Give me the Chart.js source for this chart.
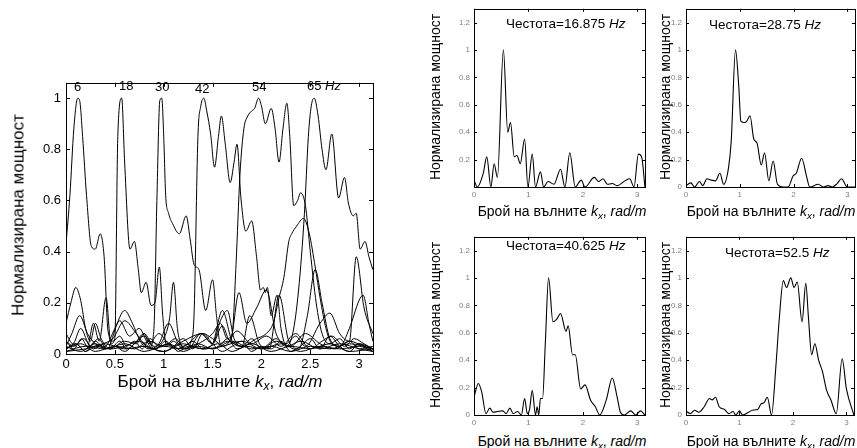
<!DOCTYPE html>
<html>
<head>
<meta charset="utf-8">
<script src="https://cdn.jsdelivr.net/npm/chart.js@4.4.0/dist/chart.umd.min.js"></script>
<style>
  body { margin: 0; width: 857px; height: 448px; overflow: hidden; position: relative; background: #fff;
         font-family: "Liberation Sans", Arial, sans-serif; color: #000; }
  canvas { position: absolute; }
  .lbl { position: absolute; white-space: nowrap; line-height: 1; }
  .rot { transform: translate(-50%, -50%) rotate(-90deg); }
  .ctr { transform: translate(-50%, -50%); }
  .big { font-size: 17px; }
  .small { font-size: 14px; }
  sub { font-size: 70%; vertical-align: -0.3em; line-height: 0; }
</style>
</head>
<body>
<canvas id="bigChart" width="354" height="305" style="left:26px; top:70px"></canvas>
<canvas id="f16" width="214" height="205" style="left:436px; top:0px"></canvas>
<canvas id="f28" width="212" height="205" style="left:648px; top:0px"></canvas>
<canvas id="f40" width="214" height="205" style="left:436px; top:228px"></canvas>
<canvas id="f52" width="212" height="205" style="left:648px; top:228px"></canvas>

<!-- big panel texts -->
<div class="lbl rot big" style="left:18px; top:215px">Нормализирана мощност</div>
<div class="lbl ctr big" style="left:220px; top:381px">Брой на вълните <i>k<sub>x</sub></i>, <i>rad/m</i></div>
<div class="lbl" style="left:74px; top:80px; font-size:13px">6</div>
<div class="lbl" style="left:119px; top:79px; font-size:13px">18</div>
<div class="lbl" style="left:155px; top:80px; font-size:13px">30</div>
<div class="lbl" style="left:195px; top:82px; font-size:13px">42</div>
<div class="lbl" style="left:252px; top:80px; font-size:13px">54</div>
<div class="lbl" style="left:307px; top:79px; font-size:13px">65 <i>Hz</i></div>

<!-- small panel texts -->
<div class="lbl rot small" style="left:435px; top:97px">Нормализирана мощност</div>
<div class="lbl rot small" style="left:665px; top:97px">Нормализирана мощност</div>
<div class="lbl rot small" style="left:435px; top:325px">Нормализирана мощност</div>
<div class="lbl rot small" style="left:665px; top:325px">Нормализирана мощност</div>
<div class="lbl ctr small" style="left:562px; top:211px">Брой на вълните <i>k<sub>x</sub></i>, <i>rad/m</i></div>
<div class="lbl ctr small" style="left:771px; top:211px">Брой на вълните <i>k<sub>x</sub></i>, <i>rad/m</i></div>
<div class="lbl ctr small" style="left:562px; top:441px">Брой на вълните <i>k<sub>x</sub></i>, <i>rad/m</i></div>
<div class="lbl ctr small" style="left:771px; top:441px">Брой на вълните <i>k<sub>x</sub></i>, <i>rad/m</i></div>
<div class="lbl" style="left:506px; top:17px; font-size:13.5px">Честота=16.875 <i>Hz</i></div>
<div class="lbl" style="left:709px; top:18px; font-size:13.5px">Честота=28.75 <i>Hz</i></div>
<div class="lbl" style="left:506px; top:239px; font-size:13.5px">Честота=40.625 <i>Hz</i></div>
<div class="lbl" style="left:725px; top:246px; font-size:13.5px">Честота=52.5 <i>Hz</i></div>

<script>
// Ticks
const xTicks = [0, 0.5, 1, 1.5, 2, 2.5, 3];
const yTicks = [0, 0.2, 0.4, 0.6, 0.8, 1];
const xTicksSmall = [0, 1, 2, 3];
const yTicksSmall = [0, 0.2, 0.4, 0.6, 0.8, 1, 1.2];

// Big panel: wavenumber (rad/m) and normalized power for each curve
const k6 = [0, 0.04, 0.08, 0.12, 0.14, 0.17, 0.21, 0.26, 0.30, 0.35, 0.39, 0.43, 0.48, 0.55, 0.62, 0.70, 0.78, 0.86, 0.95, 1.05, 1.15, 1.25, 1.40, 1.55, 1.70, 1.85, 2.00, 2.20, 2.40, 2.60, 2.80, 3.00, 3.14];
const p6 = [0.43, 0.62, 0.88, 1.00, 0.99, 0.85, 0.62, 0.42, 0.41, 0.47, 0.38, 0.09, 0.05, 0.07, 0.03, 0.05, 0.02, 0.06, 0.03, 0.04, 0.01, 0.03, 0.02, 0.04, 0.01, 0.03, 0.02, 0.04, 0.01, 0.03, 0.02, 0.03, 0.01];

const k18 = [0, 0.08, 0.16, 0.22, 0.28, 0.34, 0.41, 0.46, 0.50, 0.53, 0.57, 0.60, 0.655, 0.70, 0.74, 0.77, 0.82, 0.87, 0.91, 0.955, 0.99, 1.03, 1.10, 1.20, 1.35, 1.50, 1.70, 1.90, 2.10, 2.30, 2.50, 2.70, 2.90, 3.14];
const p18 = [0.05, 0.02, 0.06, 0.03, 0.12, 0.05, 0.22, 0.04, 0.06, 0.85, 1.00, 0.75, 0.41, 0.44, 0.33, 0.24, 0.28, 0.19, 0.20, 0.34, 0.15, 0.03, 0.05, 0.02, 0.04, 0.02, 0.05, 0.02, 0.03, 0.01, 0.03, 0.02, 0.04, 0.02];

const k30 = [0, 0.10, 0.20, 0.30, 0.45, 0.60, 0.72, 0.80, 0.86, 0.90, 0.93, 0.96, 0.98, 1.00, 1.02, 1.05, 1.09, 1.16, 1.23, 1.27, 1.31, 1.36, 1.43, 1.50, 1.54, 1.58, 1.65, 1.75, 1.90, 2.10, 2.30, 2.50, 2.70, 2.90, 3.14];
const p30 = [0.02, 0.04, 0.01, 0.03, 0.02, 0.05, 0.04, 0.08, 0.03, 0.10, 0.60, 0.99, 1.00, 0.85, 0.62, 0.55, 0.51, 0.47, 0.54, 0.45, 0.35, 0.33, 0.17, 0.29, 0.15, 0.04, 0.06, 0.02, 0.04, 0.01, 0.03, 0.02, 0.04, 0.01, 0.02];

const k42 = [0, 0.15, 0.30, 0.50, 0.70, 0.85, 1.00, 1.12, 1.22, 1.28, 1.31, 1.35, 1.38, 1.41, 1.44, 1.48, 1.52, 1.56, 1.59, 1.63, 1.68, 1.72, 1.75, 1.79, 1.84, 1.90, 1.95, 1.99, 2.02, 2.04, 2.06, 2.10, 2.16, 2.20, 2.26, 2.40, 2.60, 2.80, 3.00, 3.14];
const p42 = [0.02, 0.04, 0.01, 0.03, 0.02, 0.05, 0.03, 0.06, 0.02, 0.05, 0.15, 0.85, 0.97, 1.00, 0.95, 0.86, 0.73, 0.85, 0.93, 0.82, 0.67, 0.75, 0.82, 0.61, 0.48, 0.52, 0.38, 0.25, 0.26, 0.24, 0.26, 0.15, 0.23, 0.10, 0.03, 0.05, 0.02, 0.04, 0.02, 0.01];

const k54 = [0, 0.20, 0.40, 0.60, 0.80, 1.00, 1.20, 1.40, 1.50, 1.58, 1.65, 1.70, 1.74, 1.78, 1.82, 1.86, 1.90, 1.93, 1.97, 2.00, 2.04, 2.10, 2.14, 2.18, 2.22, 2.26, 2.29, 2.33, 2.37, 2.40, 2.45, 2.50, 2.56, 2.62, 2.70, 2.80, 2.90, 3.00, 3.14];
const p54 = [0.01, 0.03, 0.02, 0.04, 0.01, 0.03, 0.02, 0.05, 0.08, 0.12, 0.06, 0.08, 0.35, 0.70, 0.88, 0.93, 0.95, 0.96, 1.00, 0.97, 0.90, 0.96, 0.88, 0.75, 0.88, 0.98, 0.85, 0.58, 0.60, 0.63, 0.58, 0.40, 0.20, 0.08, 0.04, 0.06, 0.02, 0.04, 0.02];

const k60 = [0, 0.15, 0.30, 0.45, 0.60, 0.75, 0.90, 1.05, 1.20, 1.35, 1.50, 1.65, 1.80, 1.95, 2.05, 2.12, 2.18, 2.23, 2.28, 2.31, 2.36, 2.43, 2.49, 2.55, 2.60, 2.66, 2.72, 2.80, 2.90, 3.00, 3.14];
const p60 = [0.03, 0.01, 0.04, 0.02, 0.03, 0.05, 0.02, 0.04, 0.01, 0.03, 0.02, 0.05, 0.03, 0.06, 0.08, 0.12, 0.22, 0.30, 0.44, 0.47, 0.50, 0.53, 0.47, 0.34, 0.22, 0.10, 0.04, 0.03, 0.05, 0.02, 0.03];

const k65 = [0, 0.20, 0.40, 0.60, 0.80, 1.00, 1.20, 1.40, 1.60, 1.80, 2.00, 2.15, 2.25, 2.32, 2.38, 2.44, 2.48, 2.51, 2.54, 2.58, 2.62, 2.66, 2.72, 2.79, 2.85, 2.89, 2.94, 2.97, 3.01, 3.06, 3.10, 3.14];
const p65 = [0.01, 0.02, 0.04, 0.02, 0.03, 0.01, 0.04, 0.02, 0.03, 0.05, 0.02, 0.06, 0.03, 0.08, 0.25, 0.55, 0.85, 0.97, 1.00, 0.93, 0.80, 0.72, 0.86, 0.61, 0.69, 0.59, 0.54, 0.55, 0.41, 0.44, 0.38, 0.33];

// low curves of the other frequencies
const kA = [0, 0.05, 0.10, 0.15, 0.20, 0.25, 0.30, 0.36, 0.45, 0.55, 0.62, 0.70, 0.80, 0.90, 1.00, 1.06, 1.10, 1.14, 1.20, 1.30, 1.40, 1.50, 1.60, 1.70, 1.80, 1.90, 2.00, 2.15, 2.30, 2.45, 2.60, 2.75, 2.90, 3.05, 3.14];
const pA = [0.12, 0.20, 0.26, 0.21, 0.10, 0.05, 0.12, 0.06, 0.02, 0.05, 0.02, 0.04, 0.08, 0.03, 0.06, 0.14, 0.28, 0.10, 0.03, 0.05, 0.02, 0.04, 0.17, 0.05, 0.03, 0.06, 0.02, 0.05, 0.03, 0.08, 0.04, 0.02, 0.05, 0.03, 0.02];

const kB = [0, 0.06, 0.14, 0.22, 0.30, 0.40, 0.50, 0.60, 0.68, 0.76, 0.85, 0.95, 1.05, 1.15, 1.25, 1.38, 1.50, 1.60, 1.68, 1.77, 1.85, 1.95, 2.05, 2.15, 2.25, 2.35, 2.45, 2.60, 2.70, 2.80, 2.90, 2.97, 3.05, 3.14];
const pB = [0.03, 0.08, 0.15, 0.08, 0.04, 0.03, 0.10, 0.17, 0.12, 0.05, 0.02, 0.04, 0.12, 0.04, 0.02, 0.08, 0.04, 0.11, 0.05, 0.24, 0.12, 0.18, 0.25, 0.08, 0.04, 0.07, 0.03, 0.12, 0.16, 0.08, 0.05, 0.38, 0.18, 0.08];

const kC = [0, 0.08, 0.18, 0.28, 0.38, 0.48, 0.60, 0.72, 0.82, 0.92, 1.02, 1.12, 1.25, 1.38, 1.50, 1.58, 1.65, 1.72, 1.80, 1.88, 1.98, 2.08, 2.18, 2.28, 2.38, 2.47, 2.55, 2.62, 2.70, 2.80, 2.90, 3.00, 3.04, 3.10, 3.14];
const pC = [0.05, 0.03, 0.06, 0.02, 0.04, 0.06, 0.13, 0.08, 0.03, 0.02, 0.05, 0.02, 0.04, 0.08, 0.04, 0.13, 0.17, 0.06, 0.03, 0.15, 0.04, 0.02, 0.23, 0.05, 0.02, 0.15, 0.33, 0.20, 0.06, 0.03, 0.10, 0.21, 0.23, 0.12, 0.05];

const kD = [0, 0.1, 0.2, 0.3, 0.4, 0.5, 0.6, 0.7, 0.8, 0.9, 1.0, 1.1, 1.2, 1.3, 1.4, 1.5, 1.6, 1.7, 1.8, 1.9, 2.0, 2.1, 2.2, 2.3, 2.4, 2.5, 2.6, 2.7, 2.8, 2.9, 3.0, 3.1, 3.14];
const pD = [0.02, 0.04, 0.01, 0.05, 0.02, 0.03, 0.01, 0.04, 0.07, 0.02, 0.01, 0.03, 0.06, 0.02, 0.08, 0.04, 0.01, 0.03, 0.05, 0.01, 0.03, 0.02, 0.05, 0.01, 0.03, 0.06, 0.02, 0.07, 0.03, 0.01, 0.04, 0.02, 0.01];

const kE = [0, 0.07, 0.15, 0.25, 0.33, 0.42, 0.55, 0.65, 0.75, 0.85, 0.95, 1.08, 1.20, 1.30, 1.40, 1.50, 1.62, 1.75, 1.90, 2.05, 2.20, 2.35, 2.50, 2.62, 2.72, 2.85, 2.95, 3.05, 3.14];
const pE = [0.08, 0.04, 0.10, 0.03, 0.06, 0.02, 0.13, 0.07, 0.10, 0.04, 0.08, 0.03, 0.05, 0.07, 0.08, 0.06, 0.03, 0.09, 0.04, 0.07, 0.03, 0.08, 0.02, 0.05, 0.07, 0.03, 0.06, 0.04, 0.02];

// Small panels
const k1 = [0, 0.06, 0.17, 0.235, 0.31, 0.37, 0.43, 0.54, 0.62, 0.67, 0.74, 0.79, 0.85, 0.93, 0.99, 1.07, 1.13, 1.22, 1.28, 1.36, 1.47, 1.59, 1.67, 1.76, 1.86, 1.97, 2.04, 2.21, 2.29, 2.37, 2.45, 2.54, 2.63, 2.79, 2.86, 2.94, 3.02, 3.08, 3.14];
const p1 = [0.05, 0, 0.10, 0.22, 0, 0.17, 0.07, 1.0, 0.40, 0.47, 0.22, 0.23, 0.17, 0.35, 0, 0.24, 0, 0.11, 0, 0.04, 0.02, 0.13, 0, 0.25, 0, 0.05, 0, 0.07, 0.04, 0.06, 0.02, 0.025, 0.01, 0.05, 0.06, 0, 0.24, 0.22, 0];

const k2 = [0, 0.09, 0.16, 0.25, 0.31, 0.39, 0.47, 0.55, 0.63, 0.70, 0.79, 0.84, 0.92, 0.98, 1.02, 1.09, 1.13, 1.19, 1.26, 1.32, 1.40, 1.46, 1.54, 1.62, 1.70, 1.80, 1.90, 1.99, 2.05, 2.15, 2.24, 2.30, 2.46, 2.55, 2.64, 2.72, 2.81, 2.89, 3.00, 3.14];
const p2 = [0.01, 0.03, 0, 0.04, 0.01, 0.06, 0.05, 0.045, 0.10, 0.02, 0.14, 0.33, 1.0, 0.74, 0.48, 0.47, 0.48, 0.52, 0.35, 0.32, 0.16, 0.25, 0.045, 0.19, 0.02, 0, 0, 0.08, 0.10, 0.21, 0.08, 0, 0.02, 0, 0.01, 0, 0.025, 0.06, 0, 0];

const k3 = [0, 0.08, 0.14, 0.22, 0.29, 0.35, 0.43, 0.53, 0.59, 0.66, 0.72, 0.80, 0.87, 0.93, 0.98, 1.02, 1.07, 1.13, 1.16, 1.19, 1.22, 1.26, 1.31, 1.37, 1.45, 1.52, 1.59, 1.69, 1.73, 1.81, 1.86, 1.96, 2.04, 2.14, 2.23, 2.31, 2.43, 2.54, 2.63, 2.69, 2.76, 2.88, 2.97, 3.06, 3.14];
const p3 = [0.13, 0.23, 0.17, 0.01, 0.05, 0.02, 0.025, 0.03, 0.01, 0.05, 0.01, 0.025, 0, 0.12, 0.01, 0.04, 0.18, 0, 0.06, 0, 0.12, 0.12, 0.52, 1.0, 0.68, 0.70, 0.74, 0.61, 0.65, 0.44, 0.44, 0.19, 0.22, 0.11, 0.06, 0, 0.11, 0.27, 0.13, 0.02, 0, 0.03, 0, 0.03, 0];

const k4 = [0, 0.08, 0.16, 0.24, 0.34, 0.44, 0.49, 0.55, 0.62, 0.72, 0.80, 0.88, 0.93, 1.00, 1.06, 1.17, 1.24, 1.34, 1.40, 1.46, 1.52, 1.60, 1.68, 1.74, 1.82, 1.88, 1.96, 2.02, 2.08, 2.17, 2.24, 2.29, 2.35, 2.41, 2.48, 2.55, 2.63, 2.71, 2.81, 2.92, 3.00, 3.14];
const p4 = [0.03, 0.01, 0.035, 0.02, 0.06, 0.12, 0.11, 0.13, 0.06, 0.04, 0.01, 0.025, 0, 0.03, 0, 0.02, 0.035, 0.04, 0.08, 0.09, 0.13, 0, 0.35, 0.68, 0.98, 0.93, 1.0, 0.93, 0.97, 0.68, 0.96, 0.71, 0.44, 0.52, 0.40, 0.32, 0.18, 0.11, 0.01, 0.41, 0.19, 0];

// Frame with inward tick marks on all four sides (MATLAB style)
const framePlugin = {
    id: 'frame',
    afterDraw(chart, args, opts) {
        const { ctx, chartArea: a, scales } = chart;
        const len = opts.len || 4;
        ctx.save();
        ctx.strokeStyle = '#000';
        ctx.lineWidth = 1;
        ctx.beginPath();
        scales.x.ticks.forEach(t => {
            const px = Math.round(scales.x.getPixelForValue(t.value)) + 0.5;
            ctx.moveTo(px, a.bottom); ctx.lineTo(px, a.bottom - len);
            ctx.moveTo(px, a.top); ctx.lineTo(px, a.top + len);
        });
        scales.y.ticks.forEach(t => {
            const py = Math.round(scales.y.getPixelForValue(t.value)) + 0.5;
            ctx.moveTo(a.left, py); ctx.lineTo(a.left + len, py);
            ctx.moveTo(a.right, py); ctx.lineTo(a.right - len, py);
        });
        ctx.stroke();
        ctx.strokeRect(Math.round(a.left) + 0.5, Math.round(a.top) + 0.5, Math.round(a.width), Math.round(a.height));
        ctx.restore();
    }
};

function toPoints(k, p) {
    return k.map((x, i) => ({ x: x, y: p[i] }));
}

function makePanel(id, curves, cfg) {
    const canvas = document.getElementById(id);
    return new Chart(canvas, {
        type: 'line',
        data: {
            datasets: curves.map(c => ({
                data: toPoints(c[0], c[1]),
                borderColor: '#000',
                borderWidth: cfg.lineWidth,
                pointRadius: 0,
                cubicInterpolationMode: 'monotone',
                fill: false
            }))
        },
        options: {
            responsive: false,
            animation: false,
            events: [],
            layout: { padding: { top: 7, right: cfg.padRight, left: 0, bottom: 0 } },
            plugins: {
                legend: { display: false },
                tooltip: { enabled: false },
                frame: { len: cfg.tickLen }
            },
            scales: {
                x: {
                    type: 'linear', min: 0, max: Math.PI,
                    grid: { display: false, drawTicks: false },
                    border: { display: false },
                    afterBuildTicks: s => { s.ticks = cfg.xTicks.map(v => ({ value: v })); },
                    afterFit: s => { s.height = cfg.xHeight; },
                    ticks: {
                        color: cfg.tickColor, padding: cfg.xPad, maxRotation: 0, autoSkip: false,
                        font: { family: 'Liberation Sans', size: cfg.tickSize },
                        callback: v => String(v)
                    }
                },
                y: {
                    type: 'linear', min: 0, max: cfg.yMax,
                    grid: { display: false, drawTicks: false },
                    border: { display: false },
                    afterBuildTicks: s => { s.ticks = cfg.yTicks.map(v => ({ value: v })); },
                    afterFit: s => { s.width = cfg.yWidth; },
                    ticks: {
                        color: cfg.tickColor, padding: cfg.yPad, autoSkip: false,
                        font: { family: 'Liberation Sans', size: cfg.tickSize },
                        callback: v => (cfg.hideZero && v === 0) ? '' : String(v)
                    }
                }
            }
        },
        plugins: [framePlugin]
    });
}

const bigCfg = {
    lineWidth: 1, padRight: 7, tickLen: 4, xTicks: xTicks, yTicks: yTicks, yMax: 1.06,
    xHeight: 21, yWidth: 40, xPad: 3, yPad: 5, tickSize: 13, tickColor: '#000'
};
const smallCfg = {
    lineWidth: 1.1, padRight: 5, tickLen: 3, xTicks: xTicksSmall, yTicks: yTicksSmall, yMax: 1.3,
    xHeight: 18, yWidth: 38, xPad: 3, yPad: 4, tickSize: 8, tickColor: '#808080'
};

makePanel('bigChart', [
    [k6, p6], [k18, p18], [k30, p30], [k42, p42], [k54, p54], [k60, p60], [k65, p65],
    [kA, pA], [kB, pB], [kC, pC], [kD, pD], [kE, pE]
], bigCfg);

makePanel('f16', [[k1, p1]], Object.assign({}, smallCfg, { hideZero: true }));
makePanel('f28', [[k2, p2]], smallCfg);
makePanel('f40', [[k3, p3]], smallCfg);
makePanel('f52', [[k4, p4]], Object.assign({}, smallCfg, { padRight: 6 }));
</script>
</body>
</html>
